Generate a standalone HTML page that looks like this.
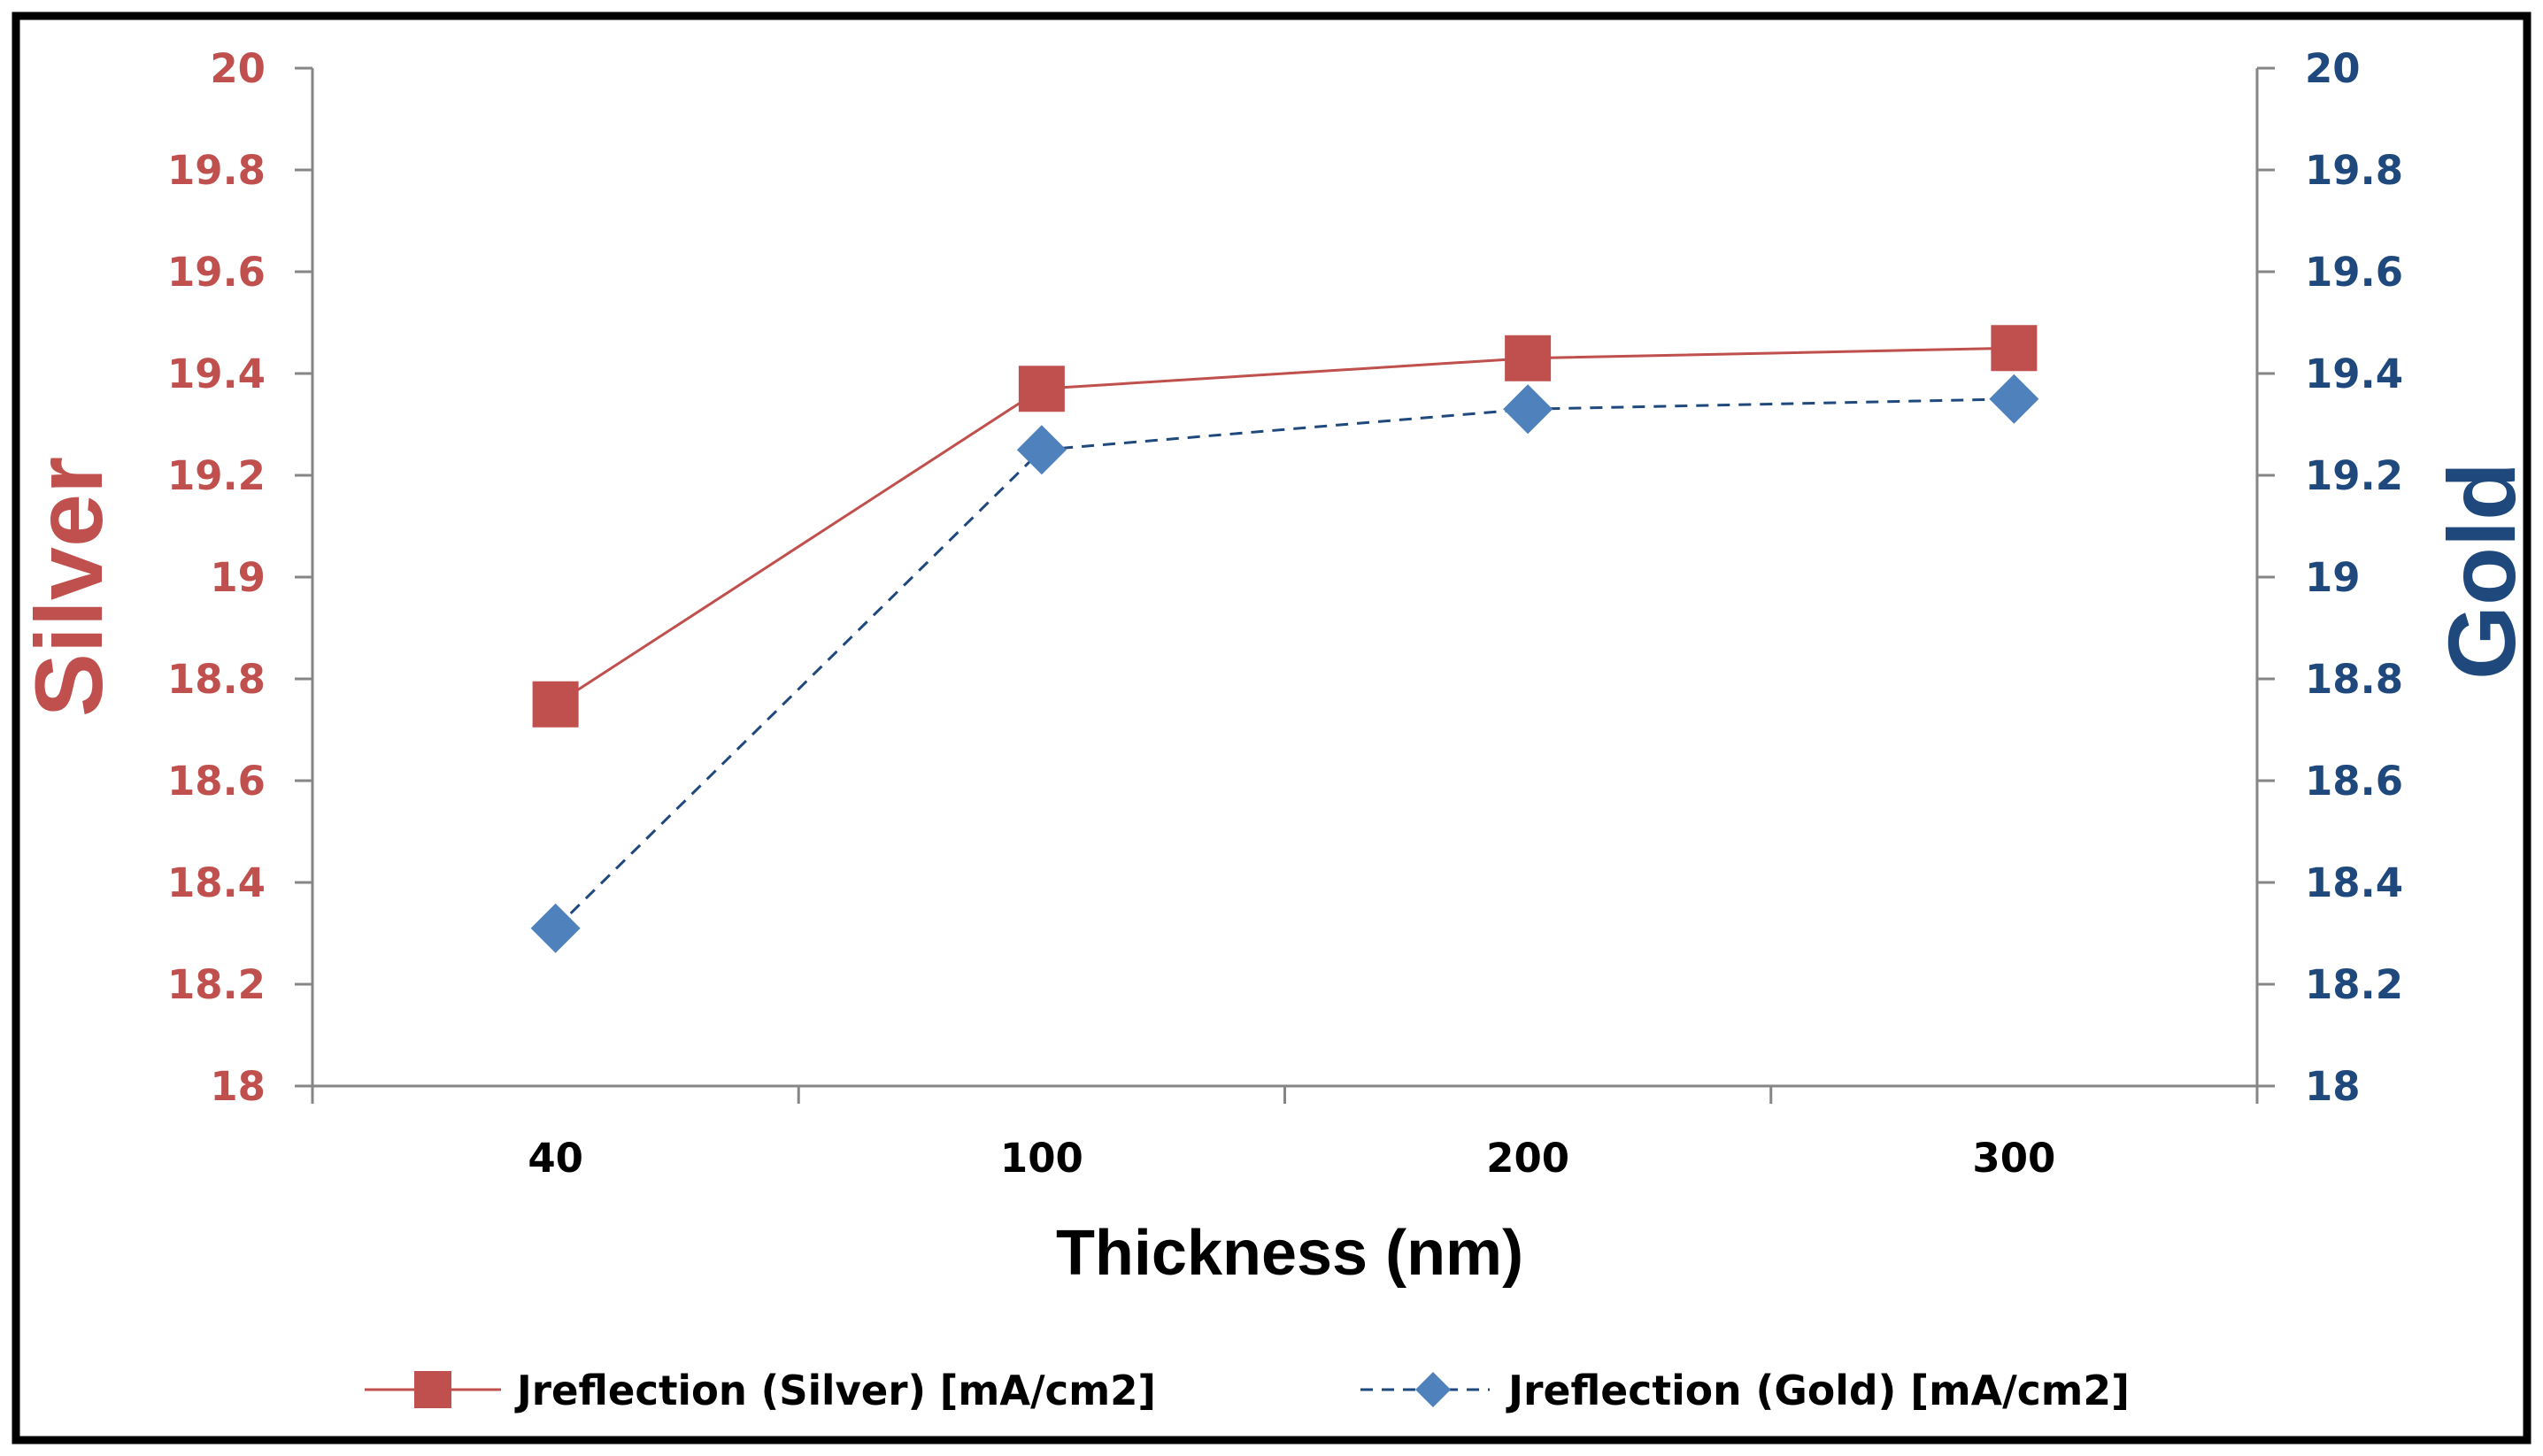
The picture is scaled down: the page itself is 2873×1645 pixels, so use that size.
<!DOCTYPE html>
<html><head><meta charset="utf-8"><style>
html,body{margin:0;padding:0;background:#fff;}
svg{display:block;}
text{font-family:"Liberation Sans","DejaVu Sans",sans-serif;font-weight:bold;}
.dv{font-family:"DejaVu Sans","Liberation Sans",sans-serif;}
</style></head><body>
<svg id="chart" width="2873" height="1645" viewBox="0 0 2873 1645" xmlns="http://www.w3.org/2000/svg">
<rect x="18" y="18" width="2837" height="1609" fill="#fff" stroke="#000" stroke-width="9"/>
<g id="axes"></g>
<g id="series"></g>
<text transform="translate(115,663) rotate(-90)" text-anchor="middle" font-size="108" fill="#C0504D">Silver</text>
<text transform="translate(2841,645) rotate(-90)" text-anchor="middle" font-size="108" fill="#1F497D">Gold</text>
<text x="1457" y="1440" text-anchor="middle" font-size="72" fill="#000">Thickness (nm)</text>
<g>
 <g>
  <line x1="412" y1="1570" x2="566" y2="1570" stroke="#C0504D" stroke-width="3"/>
  <rect x="468" y="1549" width="42" height="42" fill="#C0504D"/>
  <text class="dv" x="584" y="1587" font-size="46" fill="#000" textLength="722" lengthAdjust="spacingAndGlyphs">Jreflection (Silver) [mA/cm2]</text>
 </g>
 <g>
  <line x1="1537" y1="1570" x2="1683" y2="1570" stroke="#1F497D" stroke-width="3" stroke-dasharray="14,10"/>
  <polygon points="1619,1550 1639,1570 1619,1590 1599,1570" fill="#4F81BD"/>
  <text class="dv" x="1704" y="1587" font-size="46" fill="#000" textLength="702" lengthAdjust="spacingAndGlyphs">Jreflection (Gold) [mA/cm2]</text>
 </g>
</g>
</svg>
<script>
const categories = ["40","100","200","300"];
const silverValues = [18.75, 19.37, 19.43, 19.45];
const goldValues = [18.31, 19.25, 19.33, 19.35];
const yTicks = [18, 18.2, 18.4, 18.6, 18.8, 19, 19.2, 19.4, 19.6, 19.8, 20];

const NS = "http://www.w3.org/2000/svg";
const L = 353, R = 2550, T = 77, B = 1227;
const yMin = 18, yMax = 20;
const band = (R - L) / categories.length;
function xPos(i){ return L + band * (i + 0.5); }
function yPos(v){ return B - (v - yMin) / (yMax - yMin) * (B - T); }
function mk(tag, attrs, parent){
  const e = document.createElementNS(NS, tag);
  for (const k in attrs) e.setAttribute(k, attrs[k]);
  parent.appendChild(e); return e;
}
const axes = document.getElementById('axes');
const ser = document.getElementById('series');
const grey = "#868686";

let a = mk('line', {x1:L,y1:T,x2:L,y2:B,stroke:grey,'stroke-width':3}, axes);


a = mk('line', {x1:R,y1:T,x2:R,y2:B,stroke:grey,'stroke-width':3}, axes);


a = mk('line', {x1:L,y1:B,x2:R,y2:B,stroke:grey,'stroke-width':3}, axes);



yTicks.forEach(v => {
  const y = yPos(v);
  mk('line', {x1:L-20,y1:y,x2:L,y2:y,stroke:grey,'stroke-width':3}, axes);
  mk('line', {x1:R,y1:y,x2:R+20,y2:y,stroke:grey,'stroke-width':3}, axes);
  const t1 = mk('text', {x:300,y:y+16,'text-anchor':'end','font-size':45,fill:'#C0504D','class':'dv'}, axes);
  t1.textContent = String(v);
  
  
  const t2 = mk('text', {x:2604,y:y+16,'text-anchor':'start','font-size':45,fill:'#1F497D','class':'dv'}, axes);
  t2.textContent = String(v);
  
  
});
for (let i = 0; i <= categories.length; i++){
  const x = L + band * i;
  mk('line', {x1:x,y1:B,x2:x,y2:B+20,stroke:grey,'stroke-width':3}, axes);
}
categories.forEach((c, i) => {
  const t = mk('text', {x:xPos(i),y:1324,'text-anchor':'middle','font-size':45,fill:'#000','class':'dv'}, axes);
  t.textContent = c;
  
  
});

const sp = silverValues.map((v,i)=>xPos(i)+','+yPos(v)).join(' ');
const sl = mk('polyline', {points:sp,fill:'none',stroke:'#C0504D','stroke-width':3}, ser);


const gp = goldValues.map((v,i)=>xPos(i)+','+yPos(v)).join(' ');
const gl = mk('polyline', {points:gp,fill:'none',stroke:'#1F497D','stroke-width':3,'stroke-dasharray':'14,10'}, ser);



silverValues.forEach((v,i)=>{
  const x = xPos(i), y = yPos(v);
  const m = mk('rect', {x:x-26,y:y-26,width:52,height:52,fill:'#C0504D'}, ser);
  
  
});
goldValues.forEach((v,i)=>{
  const x = xPos(i), y = yPos(v);
  const m = mk('polygon', {points:`${x},${y-28} ${x+28},${y} ${x},${y+28} ${x-28},${y}`,fill:'#4F81BD'}, ser);
  
  
});
</script>
</body></html>
